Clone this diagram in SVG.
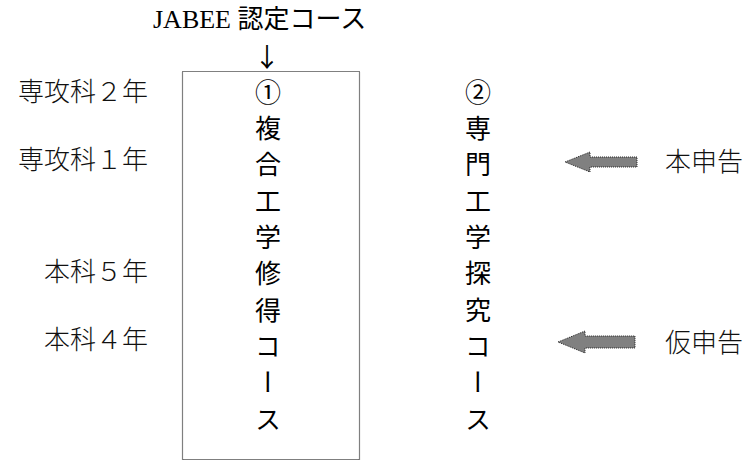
<svg xmlns="http://www.w3.org/2000/svg" width="750" height="461" viewBox="0 0 750 461">
<defs>
<style>
.lbl{font-family:"Noto Sans CJK JP","Liberation Serif",serif;font-size:26px;font-weight:300;fill:#111}
.col{font-family:"Noto Sans CJK JP",sans-serif;font-size:26px;font-weight:400;fill:#000;writing-mode:vertical-rl;text-orientation:mixed;letter-spacing:10.3px}
.title{font-family:"Liberation Serif","Noto Sans CJK JP",serif;font-size:26px;fill:#000}
.arr{font-family:"Noto Sans CJK JP",sans-serif;font-size:26px;fill:#000}
.box{fill:none;stroke:#000;stroke-width:1.2;stroke-dasharray:1 1}
.blk{fill:#808080;stroke:#222;stroke-width:1;stroke-dasharray:1 1}
</style>
</defs>
<rect width="750" height="461" fill="#fff"/>
<g id="title">
<text class="title" x="153" y="28">JABEE 認定コース</text>
<text class="arr" x="267" y="67" text-anchor="middle">↓</text>
</g>
<g id="year-labels">
<text class="lbl" x="148" y="101" text-anchor="end">専攻科２年</text>
<text class="lbl" x="148" y="169" text-anchor="end">専攻科１年</text>
<text class="lbl" x="148" y="281" text-anchor="end">本科５年</text>
<text class="lbl" x="148" y="349" text-anchor="end">本科４年</text>
</g>
<g id="course1">
<rect class="box" x="182.5" y="71.5" width="177" height="388"/>
<text class="col" x="268" y="79">①複合工学修得コース</text>
</g>
<g id="course2">
<text class="col" x="478" y="79">②専門工学探究コース</text>
</g>
<g id="connectors">
<polygon class="blk" points="565,162 590,152 590,157 637,157 637,167 590,167 590,172"/>
<polygon class="blk" points="558,342 585,331 585,336 635,336 635,348 585,348 585,353"/>
</g>
<g id="notes">
<text class="lbl" x="665" y="171">本申告</text>
<text class="lbl" x="665" y="352">仮申告</text>
</g>
</svg>
